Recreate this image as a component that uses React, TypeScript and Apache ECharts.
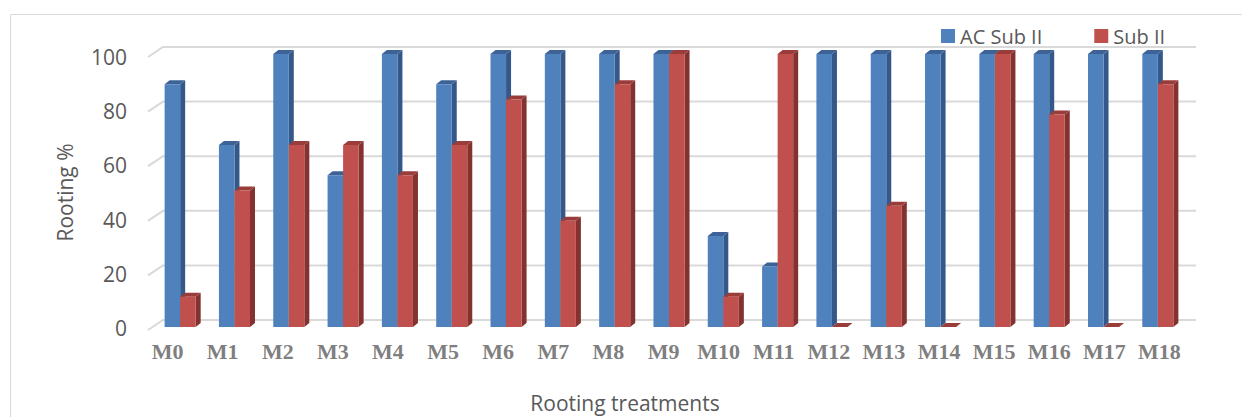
import React, { useEffect, useRef } from "react";
import * as echarts from "echarts";

const categories = ["M0","M1","M2","M3","M4","M5","M6","M7","M8","M9","M10","M11","M12","M13","M14","M15","M16","M17","M18"];
const acSubII = [88.9, 66.7, 100, 55.6, 100, 88.9, 100, 100, 100, 100, 33.3, 22.2, 100, 100, 100, 100, 100, 100, 100];
const subII = [11.1, 50, 66.7, 66.7, 55.6, 66.7, 83.3, 38.9, 88.9, 100, 11.1, 100, 0, 44.4, 0, 100, 77.8, 0, 88.9];
const yTicks = [0, 20, 40, 60, 80, 100];
const seriesNames = ["AC Sub II", "Sub II"];

const BLUE = { front: "#4f81bd", side: "#35588a", top: "#3d6396" };
const RED = { front: "#c0504d", side: "#843230", top: "#9a3c39" };

function makeBar(sign: number, col: { front: string; side: string; top: string }) {
  return (params: any, api: any) => {
    const idx = api.value(0);
    const val = api.value(1);
    const base = api.coord([idx, 0]);
    const tp = api.coord([idx, val]);
    const band = api.size([1, 0])[0];
    const w = band * 0.286;
    const x = sign < 0 ? base[0] - w : base[0];
    const yTop = tp[1];
    const yBase = base[1];
    const dx = 5;
    const dy = 4;
    return {
      type: "group",
      children: [
        {
          type: "polygon",
          shape: { points: [[x + w, yTop], [x + w + dx, yTop - dy], [x + w + dx, yBase - dy], [x + w, yBase]] },
          style: { fill: col.side },
        },
        {
          type: "polygon",
          shape: { points: [[x, yTop], [x + dx, yTop - dy], [x + w + dx, yTop - dy], [x + w, yTop]] },
          style: { fill: col.top },
        },
        {
          type: "rect",
          shape: { x, y: yTop, width: w, height: Math.max(0, yBase - yTop) },
          style: { fill: col.front },
        },
      ],
    };
  };
}

const renderGrid = (params: any, api: any) => {
  const v = api.value(0);
  const p = api.coord([0, v]);
  const cs = params.coordSys;
  const yF = p[1] + 3;
  const xF = cs.x - 5;
  const xB = xF + 15;
  const xR = cs.x + cs.width + 11;
  return {
    type: "polyline",
    shape: { points: [[xF, yF], [xB, yF - 10], [xR, yF - 10]] },
    style: { stroke: "#d9d9d9", lineWidth: 2, fill: "none" },
    z2: 0,
  };
};

export default function App() {
  const ref = useRef<HTMLDivElement>(null);
  useEffect(() => {
    document.body.style.margin = "0";
    const chart = echarts.init(ref.current!, null, { renderer: "svg" });
    const font = "'Open Sans', sans-serif";
    chart.setOption({
      animation: false,
      backgroundColor: "#ffffff",
      grid: [
        { left: 153, width: 1032, top: 54, bottom: 90 },
        { left: 140, width: 1047, top: 57, bottom: 89 },
      ],
      legend: {
        data: seriesNames,
        left: 936,
        top: 21,
        icon: "rect",
        itemWidth: 14,
        itemHeight: 14,
        itemGap: 52,
        textStyle: { fontFamily: font, fontSize: 20, color: "#595959" },
      },
      xAxis: [
        {
          type: "category",
          gridIndex: 0,
          data: categories,
          axisLine: { show: false },
          axisTick: { show: false },
          axisLabel: { show: false },
        },
        {
          type: "category",
          gridIndex: 1,
          data: categories,
          axisLine: { show: false },
          axisTick: { show: false },
          axisLabel: {
            margin: 12,
            fontFamily: "'Liberation Serif', 'Times New Roman', serif",
            fontWeight: "bold",
            fontSize: 22,
            color: "#7f7f7f",
            interval: 0,
          },
        },
      ],
      yAxis: [
        {
          type: "value",
          gridIndex: 0,
          min: 0,
          max: 100,
          interval: 20,
          show: false,
        },
        {
          type: "value",
          gridIndex: 1,
          min: 0,
          max: 100,
          interval: 20,
          splitLine: { show: false },
          axisLine: { show: false },
          axisTick: { show: false },
          axisLabel: {
            margin: 13,
            fontFamily: font,
            fontSize: 21,
            color: "#595959",
          },
          name: "Rooting %",
          nameLocation: "middle",
          nameRotate: 90,
          nameGap: 65,
          nameTextStyle: { fontFamily: font, fontSize: 21, color: "#595959" },
        },
      ],
      graphic: [
        {
          type: "rect",
          shape: { x: 10.5, y: 14.5, width: 1300, height: 500 },
          style: { fill: "none", stroke: "#d9d9d9", lineWidth: 1 },
          silent: true,
          z: -10,
        },
        {
          type: "text",
          x: 625,
          y: 403,
          style: {
            text: "Rooting treatments",
            fontFamily: font,
            fontSize: 21,
            fill: "#595959",
            align: "center",
            verticalAlign: "middle",
          },
        },
      ],
      series: [
        {
          type: "custom",
          name: "grid",
          xAxisIndex: 0,
          yAxisIndex: 0,
          renderItem: renderGrid,
          data: yTicks.map((v) => [v]),
          encode: { y: 0 },
          silent: true,
          z: 1,
        },
        {
          type: "custom",
          name: seriesNames[0],
          xAxisIndex: 0,
          yAxisIndex: 0,
          itemStyle: { color: BLUE.front },
          renderItem: makeBar(-1, BLUE),
          data: acSubII.map((v, i) => [i, v]),
          encode: { x: 0, y: 1 },
          z: 2,
        },
        {
          type: "custom",
          name: seriesNames[1],
          xAxisIndex: 0,
          yAxisIndex: 0,
          itemStyle: { color: RED.front },
          renderItem: makeBar(1, RED),
          data: subII.map((v, i) => [i, v]),
          encode: { x: 0, y: 1 },
          z: 3,
        },
      ],
    });
    return () => chart.dispose();
  }, []);
  return <div ref={ref} style={{ width: 1242, height: 417 }} />;
}
